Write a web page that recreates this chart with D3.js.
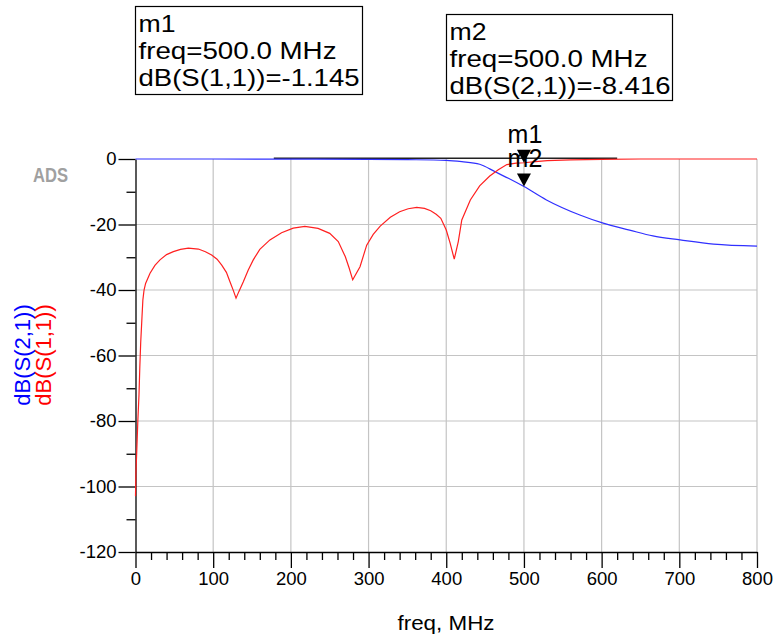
<!DOCTYPE html>
<html>
<head>
<meta charset="utf-8">
<script src="https://cdn.jsdelivr.net/npm/d3@7"></script>
<style>
  body { margin: 0; background: #fff; }
  svg { display: block; font-family: "Liberation Sans", Arial, sans-serif; }
</style>
</head>
<body>
<svg id="chart" width="773" height="636"></svg>
<script>
// S11 (red)
var freqS11 = [0, 0.5, 1.5, 3, 4.5, 5.5, 6.7, 8.4, 9.5, 11, 13, 18.7, 25, 31.5, 40, 48.7, 58, 68, 81, 90, 98, 105, 111, 117, 121.6, 126, 129.4, 133, 138.8, 145, 151.6, 160, 173, 188, 203, 218, 235, 250, 261, 270, 275, 279.6, 289, 297.6, 306, 315, 328, 340, 351, 362, 372, 380, 387, 393, 400, 405, 410.3, 415.5, 420, 431, 443, 456, 467, 478, 490, 500, 515, 530, 560, 600, 650, 700, 800];
var dbS11 = [-103, -96, -90, -80, -72, -64, -56, -48, -43, -40, -38, -34.9, -32.5, -30.8, -29.2, -28.3, -27.6, -27.2, -27.5, -28.3, -29.3, -30.6, -32.4, -34.6, -37.5, -40.2, -42.5, -40.5, -37.5, -34, -30.8, -27.6, -24.7, -22.5, -21.1, -20.6, -21.2, -22.7, -25.2, -29.8, -33.3, -36.9, -32.9, -26.3, -23, -20.5, -17.8, -16.1, -15.2, -14.8, -15.1, -15.8, -16.9, -18.1, -21.7, -25.7, -30.6, -25.2, -18.6, -12.5, -8.2, -5.2, -3.3, -1.7, -1.25, -1.145, -0.8, -0.5, -0.25, -0.1, 0, 0, 0];

// S21 (blue)
var freqS21 = [0, 100, 200, 300, 350, 400, 420, 443, 463, 480, 500, 529, 572, 602, 636, 666, 701, 744, 800];
var dbS21 = [0, 0, -0.05, -0.1, -0.2, -0.4, -0.8, -1.6, -3.9, -5.9, -8.416, -12.5, -17.1, -19.6, -21.7, -23.5, -24.7, -26, -26.6];

var xTicks = [0, 100, 200, 300, 400, 500, 600, 700, 800];
var yTicks = [-120, -100, -80, -60, -40, -20, 0];

var markers = [
  { name: "m1", freq: 500, val: -1.145, trace: "dB(S(1,1))" },
  { name: "m2", freq: 500, val: -8.416, trace: "dB(S(2,1))" }
];

var svg = d3.select("#chart");

var x = d3.scaleLinear().domain([0, 800]).range([135.5, 757]);
var y = d3.scaleLinear().domain([-120, 0]).range([552, 159]);

// grid
svg.append("g").selectAll("line").data(xTicks.slice(1)).join("line")
  .attr("x1", d => x(d)).attr("x2", d => x(d))
  .attr("y1", y(0)).attr("y2", y(-120))
  .attr("stroke", "#c4c4c4").attr("stroke-width", 1.2);
svg.append("g").selectAll("line").data(yTicks.slice(1, -1)).join("line")
  .attr("x1", x(0)).attr("x2", x(800))
  .attr("y1", d => y(d)).attr("y2", d => y(d))
  .attr("stroke", "#c4c4c4").attr("stroke-width", 1.2);

// the odd black bit of the top frame
svg.append("line")
  .attr("x1", x(178)).attr("x2", x(620))
  .attr("y1", y(0) - 0.8).attr("y2", y(0) - 0.8)
  .attr("stroke", "#222").attr("stroke-width", 1.6);

// axes
var minorY = d3.range(-110, 0, 20);
var minorX = d3.range(0, 801, 20).filter(d => d % 100 != 0);
var fmt = d => String(d);   // plain hyphen, not the unicode minus

svg.append("g").attr("transform", "translate(" + x(0) + ",0)")
  .call(d3.axisLeft(y).tickValues(yTicks).tickFormat(fmt).tickSize(17).tickSizeOuter(0).tickPadding(2));
svg.append("g").attr("transform", "translate(" + x(0) + ",0)")
  .call(d3.axisLeft(y).tickValues(minorY).tickSize(9).tickFormat(""))
  .select(".domain").remove();

svg.append("g").attr("transform", "translate(0," + y(-120) + ")")
  .call(d3.axisBottom(x).tickValues(xTicks).tickFormat(fmt).tickSize(16).tickSizeOuter(0).tickPadding(4));
svg.append("g").attr("transform", "translate(0," + y(-120) + ")")
  .call(d3.axisBottom(x).tickValues(minorX).tickSize(8).tickFormat(""))
  .select(".domain").remove();

svg.selectAll(".tick text").attr("font-size", 18.5).attr("fill", "#000")
  .attr("font-family", "Liberation Sans, Arial, sans-serif");
svg.selectAll(".domain, .tick line").attr("stroke", "#000").attr("stroke-width", 1.3);

// curves
var lineS11 = d3.line().x((d, i) => x(freqS11[i])).y(d => y(d));
var lineS21 = d3.line().x((d, i) => x(freqS21[i])).y(d => y(d)).curve(d3.curveMonotoneX);

svg.append("path").datum(dbS21)
  .attr("d", lineS21).attr("fill", "none")
  .attr("stroke", "#3030ff").attr("stroke-width", 1.2);
svg.append("path").datum(dbS11)
  .attr("d", lineS11).attr("fill", "none")
  .attr("stroke", "#ff2020").attr("stroke-width", 1.2);

// markers
markers.forEach(function(m) {
  var px = x(m.freq), py = y(m.val);
  svg.append("path")
    .attr("d", "M" + (px - 7) + "," + (py - 13) + "L" + (px + 7) + "," + (py - 13) + "L" + px + "," + py + "Z")
    .attr("fill", "#000");
  svg.append("text").attr("x", px + 1).attr("y", py - 20)
    .attr("text-anchor", "middle").attr("font-size", 25).text(m.name);
});

// marker readout boxes
var boxes = [
  { x0: 135.5, y0: 6.5, w: 227, h: 88, m: markers[0] },
  { x0: 446.5, y0: 14.5, w: 226, h: 86, m: markers[1] }
];
boxes.forEach(function(b) {
  svg.append("rect").attr("x", b.x0).attr("y", b.y0).attr("width", b.w).attr("height", b.h)
    .attr("fill", "#fff").attr("stroke", "#000").attr("stroke-width", 1.2);
  var lines = [b.m.name, "freq=" + b.m.freq.toFixed(1) + " MHz", b.m.trace + "=" + b.m.val.toFixed(3)];
  var lens = [37, 198, 221];
  lines.forEach(function(t, i) {
    svg.append("text").attr("x", b.x0 + 3).attr("y", b.y0 + 25 + i * 27.3)
      .attr("font-size", 24.5).attr("textLength", lens[i]).attr("lengthAdjust", "spacingAndGlyphs")
      .text(t);
  });
});

// y label
svg.append("text").attr("transform", "translate(30,355) rotate(-90)")
  .attr("text-anchor", "middle").attr("font-size", 22).attr("fill", "#0000ff").text("dB(S(2,1))");
svg.append("text").attr("transform", "translate(51,355) rotate(-90)")
  .attr("text-anchor", "middle").attr("font-size", 22).attr("fill", "#ff0000").text("dB(S(1,1))");

// x label
svg.append("text").attr("x", 446).attr("y", 630).attr("text-anchor", "middle")
  .attr("font-size", 21).attr("textLength", 97).attr("lengthAdjust", "spacingAndGlyphs")
  .text("freq, MHz");

// ADS logo text
svg.append("text").attr("x", 33).attr("y", 182).attr("font-size", 20).attr("font-weight", "bold")
  .attr("fill", "#a0a0a0").attr("textLength", 35).attr("lengthAdjust", "spacingAndGlyphs")
  .text("ADS");
</script>
</body>
</html>
